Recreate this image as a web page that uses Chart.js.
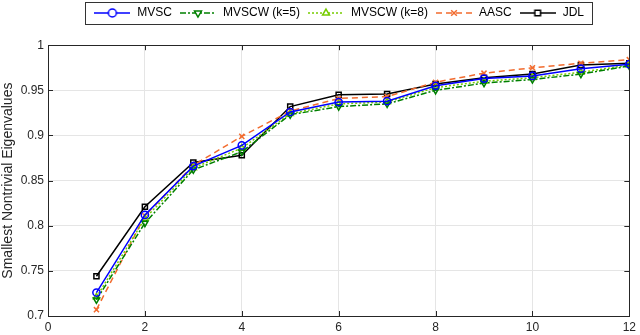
<!DOCTYPE html>
<html>
<head>
<meta charset="utf-8">
<script src="https://cdn.jsdelivr.net/npm/chart.js@4/dist/chart.umd.min.js"></script>
<style>
  html, body { margin: 0; padding: 0; background: #fff; }
  #wrap { width: 640px; height: 335px; }
</style>
</head>
<body>
<div id="wrap"><canvas id="ChartEigen"></canvas></div>
<script>
// data
var xValues = [1, 2, 3, 4, 5, 6, 7, 8, 9, 10, 11, 12];
var mvsc   = [0.726, 0.812, 0.866, 0.889, 0.926, 0.937, 0.938, 0.955, 0.963, 0.966, 0.974, 0.979];
var mvscw5 = [0.718, 0.803, 0.862, 0.882, 0.923, 0.932, 0.935, 0.950, 0.958, 0.962, 0.968, 0.977];
var mvscw8 = [0.721, 0.808, 0.864, 0.886, 0.924, 0.935, 0.937, 0.953, 0.960, 0.964, 0.970, 0.978];
var aasc   = [0.707, 0.811, 0.867, 0.899, 0.927, 0.941, 0.943, 0.959, 0.969, 0.975, 0.980, 0.984];
var jdl    = [0.744, 0.821, 0.870, 0.878, 0.932, 0.945, 0.946, 0.957, 0.964, 0.968, 0.978, 0.980];
var xTicks = [0, 2, 4, 6, 8, 10, 12];
var yTicks = [0.7, 0.75, 0.8, 0.85, 0.9, 0.95, 1];

var axisColor = "#262626";
var fontFamily = "'Liberation Sans', Arial, sans-serif";

function toPoints(vals) {
    return vals.map(function (v, i) { return { x: xValues[i], y: v }; });
}

function series(label, vals, color, dash, style, rot) {
    return {
        label: label,
        data: toPoints(vals),
        borderColor: color,
        backgroundColor: "rgba(0,0,0,0)",
        borderWidth: 1.5,
        borderDash: dash,
        pointStyle: style,
        rotation: rot || 0,
        pointRadius: 3.6,
        pointBorderWidth: 1.5,
        pointBorderColor: color,
        pointBackgroundColor: "rgba(0,0,0,0)",
        fill: false,
        tension: 0
    };
}

var datasets = [
    series("MVSC", mvsc, "#0000ff", [], "circle"),
    series("MVSCW (k=5)", mvscw5, "#008000", [6, 2, 2, 2], "triangle", 180),
    series("MVSCW (k=8)", mvscw8, "#77cc00", [2, 2], "triangle"),
    series("AASC", aasc, "#f26b2e", [6, 4], "crossRot"),
    series("JDL", jdl, "#000000", [], "rect")
];

// small line+marker picture for the legend
function legendIcon(ds) {
    var c = document.createElement("canvas");
    c.width = 36; c.height = 12;
    var ctx = c.getContext("2d");
    ctx.strokeStyle = ds.borderColor;
    ctx.lineWidth = 1.5;
    ctx.setLineDash(ds.borderDash);
    ctx.beginPath();
    ctx.moveTo(0, 6); ctx.lineTo(36, 6);
    ctx.stroke();
    ctx.setLineDash([]);
    ctx.fillStyle = "#ffffff";
    Chart.helpers.drawPoint(ctx, {
        pointStyle: ds.pointStyle, radius: 4, rotation: ds.rotation, borderWidth: 1.5
    }, 18, 6);
    return c;
}

var boxPlugin = {
    id: "matlabBox",
    afterDraw: function (chart) {
        var ctx = chart.ctx, a = chart.chartArea;
        var xs = chart.scales.x, ys = chart.scales.y;
        ctx.save();
        ctx.strokeStyle = axisColor;
        ctx.lineWidth = 1;
        ctx.strokeRect(Math.round(a.left) + 0.5, Math.round(a.top) + 0.5,
            Math.round(a.right - a.left), Math.round(a.bottom - a.top));
        ctx.beginPath();
        xTicks.forEach(function (t) {
            var px = Math.round(xs.getPixelForValue(t)) + 0.5;
            ctx.moveTo(px, a.bottom); ctx.lineTo(px, a.bottom - 5);
            ctx.moveTo(px, a.top); ctx.lineTo(px, a.top + 5);
        });
        yTicks.forEach(function (t) {
            var py = Math.round(ys.getPixelForValue(t)) + 0.5;
            ctx.moveTo(a.left, py); ctx.lineTo(a.left + 5, py);
            ctx.moveTo(a.right, py); ctx.lineTo(a.right - 5, py);
        });
        ctx.stroke();
        // border around the legend
        var hb = chart.legend.legendHitBoxes;
        if (hb && hb.length) {
            var l = hb[0].left - 8;
            var last = hb[hb.length - 1];
            var r = last.left + last.width + 8;
            var t = hb[0].top - 5, h = hb[0].height + 10;
            ctx.strokeStyle = "#333333";
            ctx.strokeRect(Math.round(l) + 0.5, Math.round(t) + 0.5, Math.round(r - l), Math.round(h));
        }
        ctx.restore();
    }
};

new Chart(document.getElementById("ChartEigen"), {
    type: "line",
    data: { datasets: datasets },
    options: {
        responsive: true,
        maintainAspectRatio: false,
        animation: false,
        layout: { padding: { top: 0, right: 7, left: 0, bottom: 0 } },
        plugins: {
            // empty title used only as a spacer between legend and plot
            title: {
                display: true,
                text: "",
                weight: 500,
                font: { size: 1 },
                padding: { top: 0, bottom: 15 }
            },
            legend: {
                display: true,
                position: "top",
                fullSize: false,
                weight: 1000,
                labels: {
                    usePointStyle: true,
                    pointStyleWidth: 38,
                    padding: 7,
                    color: "#000000",
                    font: { family: fontFamily, size: 12 },
                    generateLabels: function (chart) {
                        return chart.data.datasets.map(function (ds, i) {
                            return {
                                text: ds.label,
                                pointStyle: legendIcon(ds),
                                fillStyle: "rgba(0,0,0,0)",
                                strokeStyle: "rgba(0,0,0,0)",
                                lineWidth: 0,
                                hidden: false,
                                datasetIndex: i
                            };
                        });
                    }
                }
            },
            tooltip: { enabled: false }
        },
        scales: {
            x: {
                type: "linear",
                min: 0,
                max: 12,
                afterBuildTicks: function (scale) {
                    scale.ticks = xTicks.map(function (v) { return { value: v }; });
                },
                afterFit: function (scale) { scale.height = 19; },
                grid: { color: "#e5e5e5", drawTicks: false },
                border: { display: false },
                ticks: { padding: 4, color: axisColor, font: { family: fontFamily, size: 12 } }
            },
            y: {
                type: "linear",
                min: 0.7,
                max: 1,
                afterBuildTicks: function (scale) {
                    scale.ticks = yTicks.map(function (v) { return { value: v }; });
                },
                afterFit: function (scale) { scale.width = 48; },
                grid: { color: "#e5e5e5", drawTicks: false },
                border: { display: false },
                title: {
                    display: true,
                    text: "Smallest Nontrivial Eigenvalues",
                    color: axisColor,
                    padding: { top: 0, bottom: 2 },
                    font: { family: fontFamily, size: 14 }
                },
                ticks: {
                    padding: 4,
                    color: axisColor,
                    font: { family: fontFamily, size: 12 },
                    callback: function (v) { return String(Math.round(v * 100) / 100); }
                }
            }
        }
    },
    plugins: [boxPlugin]
});
</script>
</body>
</html>
